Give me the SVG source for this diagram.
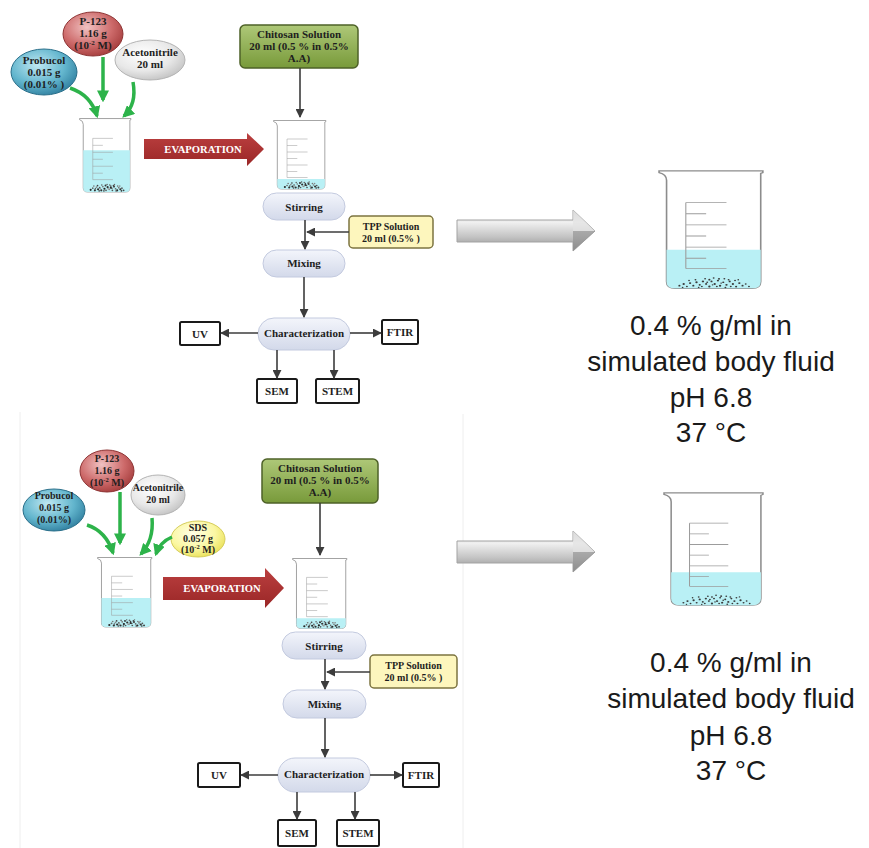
<svg xmlns="http://www.w3.org/2000/svg" xmlns:xlink="http://www.w3.org/1999/xlink" width="869" height="848" viewBox="0 0 869 848">
  <style>
    .lbl { font-family: "Liberation Serif", "Times New Roman", serif; font-weight: bold; fill: #1e1e1e; text-anchor: middle; }
    .s11 { font-size: 11px; }
    .s10 { font-size: 10px; }
    .evap { font-family: "Liberation Serif", "Times New Roman", serif; font-weight: bold; font-size: 10.6px; fill: #ffffff; text-anchor: middle; }
    .cond { font-family: "Liberation Sans", Arial, sans-serif; font-size: 28px; fill: #1a1a1a; text-anchor: middle; }
    .pill { fill: url(#pillGrad); stroke: #c3cadf; stroke-width: 1; }
    .box { fill: #ffffff; stroke: #1a1a1a; stroke-width: 2; }
    .conn { fill: none; stroke: #3c3c3c; stroke-width: 1.6; marker-end: url(#arrDark); }
    .green { fill: none; stroke: #2db34a; stroke-width: 3.5; marker-end: url(#arrGreen); }
    .shell { fill: #ffffff; stroke: #8c8c8c; stroke-width: 1.5; }
    .grad { fill: none; stroke: #9c9c9c; stroke-width: 1; }
    .liquid { fill: #b9f0f5; }
    .frame { fill: none; stroke: #eeeeee; stroke-width: 1; }
    .fine circle { fill: #3a3a3a; }
  </style>
  <defs>
    <marker id="arrDark" viewBox="0 0 10 10" refX="9" refY="5" markerWidth="9" markerHeight="9" markerUnits="userSpaceOnUse" orient="auto">
      <path d="M0,0 L10,5 L0,10 Z" fill="#3c3c3c"/>
    </marker>
    <marker id="arrGreen" viewBox="0 0 10 10" refX="8" refY="5" markerWidth="12" markerHeight="12" markerUnits="userSpaceOnUse" orient="auto">
      <path d="M0,0 L10,5 L0,10 Z" fill="#2db34a"/>
    </marker>
    <linearGradient id="pillGrad" x1="0" y1="0" x2="0" y2="1">
      <stop offset="0" stop-color="#f3f5fb"/>
      <stop offset="1" stop-color="#d3d9ea"/>
    </linearGradient>
    <linearGradient id="chitGrad" x1="0" y1="0" x2="0" y2="1">
      <stop offset="0" stop-color="#aec878"/>
      <stop offset="1" stop-color="#789a3a"/>
    </linearGradient>
    <linearGradient id="evapGrad" x1="0" y1="0" x2="0" y2="1">
      <stop offset="0" stop-color="#bb3f3f"/>
      <stop offset="1" stop-color="#9a2727"/>
    </linearGradient>
    <linearGradient id="steelGrad" x1="0" y1="0" x2="0" y2="1">
      <stop offset="0" stop-color="#c9c9c9"/>
      <stop offset="0.3" stop-color="#f0f0f0"/>
      <stop offset="0.65" stop-color="#c4c4c4"/>
      <stop offset="1" stop-color="#8d8d8d"/>
    </linearGradient>
    <radialGradient id="blueGrad" cx="0.4" cy="0.35" r="0.7">
      <stop offset="0" stop-color="#bfe8f2"/>
      <stop offset="0.6" stop-color="#62b5cd"/>
      <stop offset="1" stop-color="#2f7e9e"/>
    </radialGradient>
    <radialGradient id="redGrad" cx="0.4" cy="0.35" r="0.7">
      <stop offset="0" stop-color="#f1c2c2"/>
      <stop offset="0.6" stop-color="#cd6a6a"/>
      <stop offset="1" stop-color="#a33b3b"/>
    </radialGradient>
    <radialGradient id="grayGrad" cx="0.4" cy="0.35" r="0.7">
      <stop offset="0" stop-color="#ffffff"/>
      <stop offset="0.6" stop-color="#e8e8e8"/>
      <stop offset="1" stop-color="#c2c2c2"/>
    </radialGradient>
    <radialGradient id="yellowGrad" cx="0.4" cy="0.35" r="0.7">
      <stop offset="0" stop-color="#ffffe6"/>
      <stop offset="0.6" stop-color="#fbf7a2"/>
      <stop offset="1" stop-color="#e9e055"/>
    </radialGradient>

    <!-- beaker drawn in a 100 x 140 local frame -->
    <path id="beakerShell" d="M1,1 L98,1 L98,3 L96,4 L96,130 Q96,138 88,138 L16,138 Q8,138 8,130 L8,12 Q8,5 1,3 Z"/>
    <path id="beakerMarks" d="M26,38 L26,115 M26,38 L64,38 M26,51 L45,51 M26,64 L64,64 M26,77 L45,77 M26,90 L64,90 M26,103 L45,103 M26,115 L64,115"/>
    <!-- coarse sediment for the small beakers -->
    <g id="grains">
      <circle cx="22" cy="134" r="2" fill="#2a2a2a"/><circle cx="26" cy="131" r="1.6" fill="#666"/>
      <circle cx="30" cy="135" r="2" fill="#333"/><circle cx="33" cy="129" r="1.6" fill="#888"/>
      <circle cx="36" cy="133" r="2" fill="#2a2a2a"/><circle cx="39" cy="130" r="1.6" fill="#555"/>
      <circle cx="42" cy="135" r="2" fill="#333"/><circle cx="45" cy="128" r="1.6" fill="#777"/>
      <circle cx="48" cy="132" r="2" fill="#222"/><circle cx="51" cy="135" r="1.6" fill="#555"/>
      <circle cx="54" cy="129" r="2" fill="#333"/><circle cx="57" cy="133" r="1.6" fill="#888"/>
      <circle cx="60" cy="130" r="2" fill="#2a2a2a"/><circle cx="63" cy="135" r="1.6" fill="#555"/>
      <circle cx="66" cy="128" r="2" fill="#444"/><circle cx="69" cy="132" r="1.6" fill="#666"/>
      <circle cx="72" cy="135" r="2" fill="#2a2a2a"/><circle cx="75" cy="130" r="1.6" fill="#777"/>
      <circle cx="78" cy="133" r="2" fill="#333"/><circle cx="81" cy="131" r="1.6" fill="#555"/>
      <circle cx="84" cy="135" r="1.8" fill="#444"/><circle cx="28" cy="127" r="1.5" fill="#777"/>
      <circle cx="35" cy="126" r="1.6" fill="#444"/><circle cx="43" cy="125" r="1.5" fill="#666"/>
      <circle cx="50" cy="126" r="1.8" fill="#333"/><circle cx="58" cy="125" r="1.5" fill="#666"/>
      <circle cx="65" cy="126" r="1.6" fill="#444"/><circle cx="73" cy="127" r="1.5" fill="#777"/>
      <circle cx="31" cy="132" r="1.5" fill="#555"/><circle cx="40" cy="132" r="1.5" fill="#999"/>
      <circle cx="47" cy="136" r="1.5" fill="#444"/><circle cx="55" cy="132" r="1.5" fill="#999"/>
      <circle cx="62" cy="131" r="1.5" fill="#444"/><circle cx="70" cy="136" r="1.5" fill="#555"/>
      <circle cx="77" cy="127" r="1.5" fill="#888"/><circle cx="53" cy="124" r="1.3" fill="#555"/>
      <circle cx="67" cy="124" r="1.3" fill="#666"/><circle cx="38" cy="136" r="1.5" fill="#444"/>
      <circle cx="80" cy="136" r="1.5" fill="#333"/><circle cx="60" cy="127" r="1.4" fill="#444"/>
    </g>
    <!-- finer sediment for the large beakers -->
    <g id="grainsFine" class="fine">
      <circle cx="20" cy="135" r="1"/><circle cx="24" cy="133" r="1.1"/><circle cx="27" cy="136" r="0.9"/>
      <circle cx="30" cy="132" r="1.1"/><circle cx="33" cy="135" r="1"/><circle cx="36" cy="131" r="1.1"/>
      <circle cx="39" cy="134" r="1"/><circle cx="42" cy="130" r="1.1"/><circle cx="45" cy="133" r="1"/>
      <circle cx="48" cy="136" r="1.1"/><circle cx="50" cy="130" r="1"/><circle cx="53" cy="133" r="1.1"/>
      <circle cx="56" cy="129" r="1"/><circle cx="58" cy="135" r="1.1"/><circle cx="61" cy="131" r="1"/>
      <circle cx="64" cy="134" r="1.1"/><circle cx="67" cy="130" r="1"/><circle cx="70" cy="133" r="1.1"/>
      <circle cx="73" cy="136" r="1"/><circle cx="76" cy="132" r="1.1"/><circle cx="79" cy="135" r="1"/>
      <circle cx="82" cy="133" r="0.9"/><circle cx="85" cy="136" r="0.9"/><circle cx="44" cy="127" r="0.9"/>
      <circle cx="48" cy="128" r="1"/><circle cx="52" cy="126" r="0.9"/><circle cx="57" cy="127" r="1"/>
      <circle cx="62" cy="127" r="0.9"/><circle cx="66" cy="128" r="0.9"/><circle cx="35" cy="128" r="0.9"/>
      <circle cx="41" cy="136" r="0.9"/><circle cx="46" cy="131" r="0.9"/><circle cx="55" cy="136" r="0.9"/>
      <circle cx="63" cy="137" r="0.9"/><circle cx="68" cy="136" r="0.9"/><circle cx="72" cy="129" r="0.9"/>
      <circle cx="29" cy="129" r="0.8"/><circle cx="38" cy="137" r="0.8"/><circle cx="59" cy="132" r="0.8"/>
      <circle cx="75" cy="128" r="0.8"/><circle cx="23" cy="137" r="0.8"/><circle cx="51" cy="134" r="0.8"/>
    </g>
  </defs>

  <rect width="869" height="848" fill="#ffffff"/>

  <!-- faint panel frame of the lower scheme -->
  <path class="frame" d="M20,412 L20,848 M463,414 L463,848"/>

  <!-- ===================== upper scheme ===================== -->
  <g id="top-acetonitrile">
    <ellipse cx="150" cy="60" rx="35" ry="20" fill="url(#grayGrad)" stroke="#b4b4b4"/>
    <text class="lbl s11" x="150" y="56">Acetonitrile</text>
    <text class="lbl s11" x="150" y="68">20 ml</text>
  </g>
  <g id="top-p123">
    <ellipse cx="93" cy="34" rx="30" ry="22" fill="url(#redGrad)" stroke="#8e3434"/>
    <text class="lbl s11" x="93" y="25">P-123</text>
    <text class="lbl s11" x="93" y="37">1.16 g</text>
    <text class="lbl s11" x="93" y="49">(10<tspan dy="-4" font-size="7">-2</tspan><tspan dy="4"> M)</tspan></text>
  </g>
  <g id="top-probucol">
    <ellipse cx="44" cy="72" rx="33" ry="23" fill="url(#blueGrad)" stroke="#2a6f8a"/>
    <text class="lbl s11" x="44" y="64">Probucol</text>
    <text class="lbl s11" x="44" y="76">0.015 g</text>
    <text class="lbl s11" x="44" y="88">(0.01% )</text>
  </g>

  <g id="top-beaker-mix">
    <g transform="translate(79,118) scale(0.53,0.536)">
      <use href="#beakerShell" class="shell"/>
      <path class="liquid" d="M8,60 L96,60 L96,130 Q96,138 88,138 L16,138 Q8,138 8,130 Z"/>
      <use href="#beakerMarks" class="grad"/>
      <use href="#grains"/>
    </g>
  </g>

  <g id="top-evaporation">
    <polygon points="144,139 247,139 247,133 264,149 247,166 247,159 144,159" fill="url(#evapGrad)"/>
    <text class="evap" x="203" y="153">EVAPORATION</text>
  </g>

  <g id="top-chitosan">
    <rect x="240" y="25" width="118" height="43" rx="5" fill="url(#chitGrad)" stroke="#4e6128" stroke-width="1.5"/>
    <text class="lbl s11" x="299" y="38">Chitosan Solution</text>
    <text class="lbl s11" x="299" y="50">20 ml (0.5 % in 0.5%</text>
    <text class="lbl s11" x="299" y="62">A.A)</text>
  </g>

  <g id="top-beaker-dry">
    <g transform="translate(273,120) scale(0.54,0.5)">
      <use href="#beakerShell" class="shell"/>
      <path class="liquid" d="M8,118 L96,118 L96,130 Q96,138 88,138 L16,138 Q8,138 8,130 Z"/>
      <use href="#beakerMarks" class="grad"/>
      <use href="#grains"/>
    </g>
  </g>

  <g id="top-stirring">
    <rect class="pill" x="263" y="193" width="82" height="27" rx="13.5"/>
    <text class="lbl s11" x="304" y="211">Stirring</text>
  </g>
  <g id="top-tpp">
    <rect x="349" y="216" width="84" height="32" rx="4" fill="#fdf6bd" stroke="#7c7440" stroke-width="1.5"/>
    <text class="lbl s10" x="391" y="230">TPP Solution</text>
    <text class="lbl s10" x="391" y="242">20 ml (0.5% )</text>
  </g>
  <g id="top-mixing">
    <rect class="pill" x="263" y="250" width="82" height="27" rx="13.5"/>
    <text class="lbl s11" x="304" y="267">Mixing</text>
  </g>
  <g id="top-characterization">
    <rect class="pill" x="258" y="318" width="92" height="32" rx="16"/>
    <text class="lbl s11" x="304" y="337">Characterization</text>
  </g>
  <g id="top-uv">
    <rect class="box" x="180" y="322" width="40" height="23" rx="1.5"/>
    <text class="lbl s11" x="200" y="338">UV</text>
  </g>
  <g id="top-ftir">
    <rect class="box" x="382" y="320" width="36" height="24" rx="1.5"/>
    <text class="lbl s11" x="400" y="336">FTIR</text>
  </g>
  <g id="top-sem">
    <rect class="box" x="257" y="379" width="40" height="24" rx="1.5"/>
    <text class="lbl s11" x="277" y="395">SEM</text>
  </g>
  <g id="top-stem">
    <rect class="box" x="316" y="379" width="43" height="24" rx="1.5"/>
    <text class="lbl s11" x="337.5" y="395">STEM</text>
  </g>

  <g id="top-transfer-arrow">
    <polygon points="457,220 573,220 573,210 595,231 573,251 573,242 457,242" fill="url(#steelGrad)" stroke="#a3a3a3" stroke-width="1"/>
    <polygon points="573,210 595,231 573,231" fill="#e2e2e2" opacity="0.7"/>
    <polygon points="573,231 595,231 573,251" fill="#8c8c8c" opacity="0.6"/>
  </g>

  <g id="top-beaker-release">
    <g transform="translate(658,170) scale(1.07,0.857)">
      <use href="#beakerShell" class="shell"/>
      <path class="liquid" d="M8,93 L96,93 L96,130 Q96,138 88,138 L16,138 Q8,138 8,130 Z"/>
      <use href="#beakerMarks" class="grad"/>
      <use href="#grainsFine"/>
    </g>
  </g>

  <g id="top-conditions">
    <text class="cond" x="711" y="335">0.4 % g/ml in</text>
    <text class="cond" x="711" y="371">simulated body fluid</text>
    <text class="cond" x="711" y="407">pH 6.8</text>
    <text class="cond" x="711" y="442">37 °C</text>
  </g>

  <!-- ===================== lower scheme ===================== -->
  <g id="bot-acetonitrile">
    <ellipse cx="158" cy="495" rx="27" ry="20" fill="url(#grayGrad)" stroke="#b4b4b4"/>
    <text class="lbl s10" x="158" y="491">Acetonitrile</text>
    <text class="lbl s10" x="158" y="503">20 ml</text>
  </g>
  <g id="bot-p123">
    <ellipse cx="107" cy="471" rx="27" ry="21" fill="url(#redGrad)" stroke="#8e3434"/>
    <text class="lbl s10" x="107" y="462">P-123</text>
    <text class="lbl s10" x="107" y="474">1.16 g</text>
    <text class="lbl s10" x="107" y="486">(10<tspan dy="-4" font-size="6.5">-2</tspan><tspan dy="4"> M)</tspan></text>
  </g>
  <g id="bot-probucol">
    <ellipse cx="54" cy="510" rx="31" ry="21" fill="url(#blueGrad)" stroke="#2a6f8a"/>
    <text class="lbl s10" x="54" y="499">Probucol</text>
    <text class="lbl s10" x="54" y="511">0.015 g</text>
    <text class="lbl s10" x="54" y="523">(0.01%)</text>
  </g>
  <g id="bot-sds">
    <ellipse cx="198" cy="539" rx="27" ry="18" fill="url(#yellowGrad)" stroke="#d6cd5c"/>
    <text class="lbl s10" x="198" y="531">SDS</text>
    <text class="lbl s10" x="198" y="542">0.057 g</text>
    <text class="lbl s10" x="198" y="553">(10<tspan dy="-4" font-size="6.5">-2</tspan><tspan dy="4"> M)</tspan></text>
  </g>

  <g id="bot-beaker-mix">
    <g transform="translate(97,557) scale(0.56,0.507)">
      <use href="#beakerShell" class="shell"/>
      <path class="liquid" d="M8,81 L96,81 L96,130 Q96,138 88,138 L16,138 Q8,138 8,130 Z"/>
      <use href="#beakerMarks" class="grad"/>
      <use href="#grains"/>
    </g>
  </g>

  <g id="bot-evaporation">
    <polygon points="163,577 265,577 265,568 284,588 265,608 265,600 163,600" fill="url(#evapGrad)"/>
    <text class="evap" x="222" y="592">EVAPORATION</text>
  </g>

  <g id="bot-chitosan">
    <rect x="262" y="459" width="116" height="44" rx="5" fill="url(#chitGrad)" stroke="#4e6128" stroke-width="1.5"/>
    <text class="lbl s11" x="320" y="472">Chitosan Solution</text>
    <text class="lbl s11" x="320" y="484">20 ml (0.5 % in 0.5%</text>
    <text class="lbl s11" x="320" y="496">A.A)</text>
  </g>

  <g id="bot-beaker-dry">
    <g transform="translate(292,558) scale(0.56,0.51)">
      <use href="#beakerShell" class="shell"/>
      <path class="liquid" d="M8,118 L96,118 L96,130 Q96,138 88,138 L16,138 Q8,138 8,130 Z"/>
      <use href="#beakerMarks" class="grad"/>
      <use href="#grains"/>
    </g>
  </g>

  <g id="bot-stirring">
    <rect class="pill" x="282" y="632" width="84" height="27" rx="13.5"/>
    <text class="lbl s11" x="324" y="650">Stirring</text>
  </g>
  <g id="bot-tpp">
    <rect x="370" y="655" width="87" height="33" rx="4" fill="#fdf6bd" stroke="#7c7440" stroke-width="1.5"/>
    <text class="lbl s10" x="413.5" y="669">TPP Solution</text>
    <text class="lbl s10" x="413.5" y="681">20 ml (0.5% )</text>
  </g>
  <g id="bot-mixing">
    <rect class="pill" x="283" y="690" width="83" height="28" rx="14"/>
    <text class="lbl s11" x="324.5" y="708">Mixing</text>
  </g>
  <g id="bot-characterization">
    <rect class="pill" x="278" y="758" width="92" height="34" rx="17"/>
    <text class="lbl s11" x="324" y="778">Characterization</text>
  </g>
  <g id="bot-uv">
    <rect class="box" x="198" y="763" width="42" height="24" rx="1.5"/>
    <text class="lbl s11" x="219" y="779">UV</text>
  </g>
  <g id="bot-ftir">
    <rect class="box" x="403" y="763" width="36" height="24" rx="1.5"/>
    <text class="lbl s11" x="421" y="779">FTIR</text>
  </g>
  <g id="bot-sem">
    <rect class="box" x="278" y="820" width="38" height="26" rx="1.5"/>
    <text class="lbl s11" x="297" y="837">SEM</text>
  </g>
  <g id="bot-stem">
    <rect class="box" x="337" y="820" width="42" height="26" rx="1.5"/>
    <text class="lbl s11" x="358" y="837">STEM</text>
  </g>

  <g id="bot-transfer-arrow">
    <polygon points="457,541 573,541 573,531 595,552 573,572 573,563 457,563" fill="url(#steelGrad)" stroke="#a3a3a3" stroke-width="1"/>
    <polygon points="573,531 595,552 573,552" fill="#e2e2e2" opacity="0.7"/>
    <polygon points="573,552 595,552 573,572" fill="#8c8c8c" opacity="0.6"/>
  </g>

  <g id="bot-beaker-release">
    <g transform="translate(663,492) scale(1.02,0.82)">
      <use href="#beakerShell" class="shell"/>
      <path class="liquid" d="M8,98 L96,98 L96,130 Q96,138 88,138 L16,138 Q8,138 8,130 Z"/>
      <use href="#beakerMarks" class="grad"/>
      <use href="#grainsFine"/>
    </g>
  </g>

  <g id="bot-conditions">
    <text class="cond" x="731" y="672">0.4 % g/ml in</text>
    <text class="cond" x="731" y="708">simulated body fluid</text>
    <text class="cond" x="731" y="745">pH 6.8</text>
    <text class="cond" x="731" y="780">37 °C</text>
  </g>

  <!-- ===================== connectors ===================== -->
  <g id="connectors">
    <!-- upper: reagents into the beaker -->
    <path class="green" d="M103,57 L103,100"/>
    <path class="green" d="M70,88 Q91,95 97,116"/>
    <path class="green" d="M133,82 Q137,104 124,116"/>
    <!-- upper: process flow -->
    <path class="conn" d="M300,68 L300,117"/>
    <path class="conn" d="M305,220 L305,249"/>
    <path class="conn" d="M349,232 L307,232"/>
    <path class="conn" d="M304,277 L304,317"/>
    <path class="conn" d="M258,333 L221,333"/>
    <path class="conn" d="M350,333 L381,333"/>
    <path class="conn" d="M277,350 L277,378"/>
    <path class="conn" d="M334,350 L334,378"/>

    <!-- lower: reagents into the beaker -->
    <path class="green" d="M120,492 L120,543"/>
    <path class="green" d="M87,525 Q106,531 113,553"/>
    <path class="green" d="M152,518 Q154,540 141,554"/>
    <path class="green" d="M172,537 Q160,542 156,554"/>
    <!-- lower: process flow -->
    <path class="conn" d="M320,503 L320,555"/>
    <path class="conn" d="M325,659 L325,689"/>
    <path class="conn" d="M370,672 L327,672"/>
    <path class="conn" d="M325,718 L325,757"/>
    <path class="conn" d="M278,775 L241,775"/>
    <path class="conn" d="M370,775 L402,775"/>
    <path class="conn" d="M297,792 L297,819"/>
    <path class="conn" d="M355,792 L355,819"/>
  </g>
</svg>
